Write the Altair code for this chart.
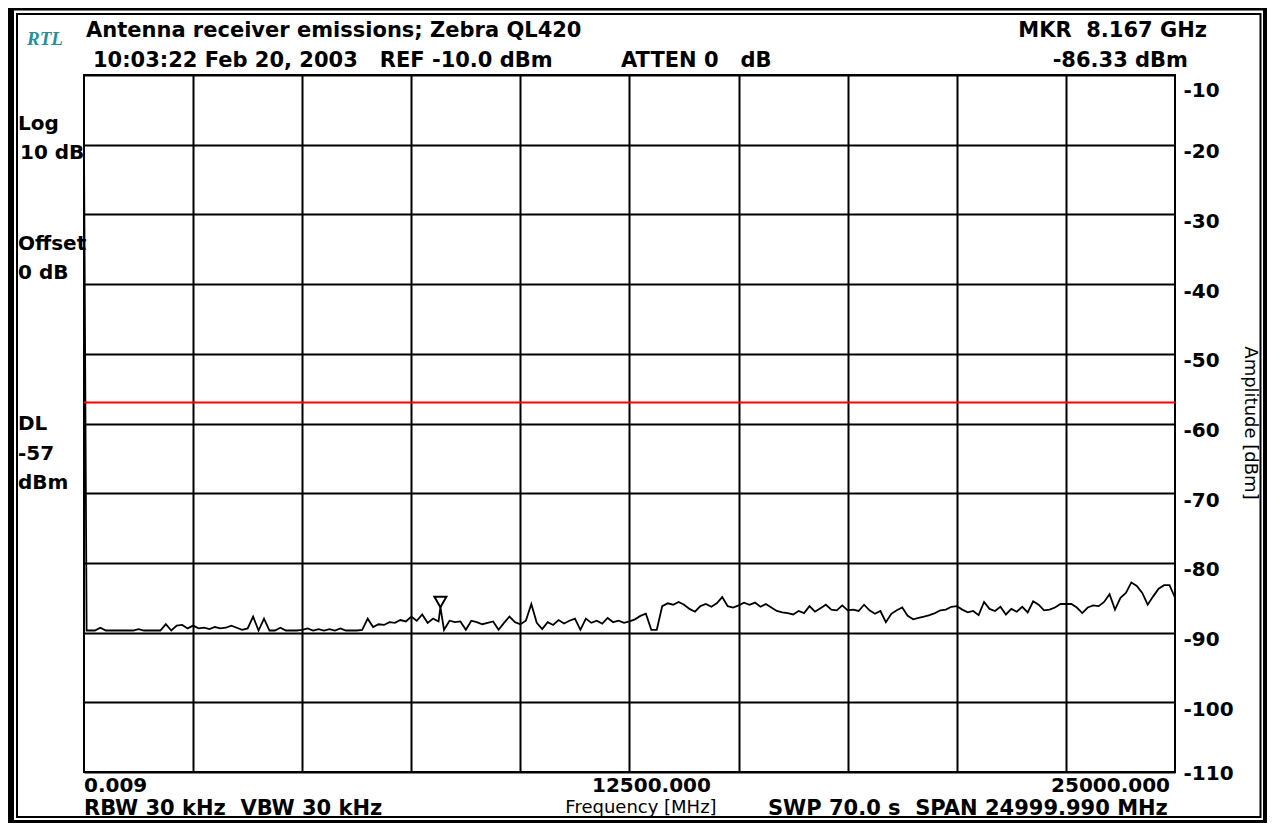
import altair as alt
import pandas as pd

# ---------------- data ----------------
FREQ_MHZ = [
    0.009, 60,
    125, 250, 375, 500, 625, 750, 875, 1000,
    1125, 1250, 1375, 1500, 1625, 1750, 1875, 2000,
    2125, 2250, 2375, 2500, 2625, 2750, 2875, 3000,
    3125, 3250, 3375, 3500, 3625, 3750, 3875, 4000,
    4125, 4250, 4375, 4500, 4625, 4750, 4875, 5000,
    5125, 5250, 5375, 5500, 5625, 5750, 5875, 6000,
    6125, 6250, 6375, 6500, 6625, 6750, 6875, 7000,
    7125, 7250, 7375, 7500, 7625, 7750, 7875, 8000,
    8125, 8167, 8250, 8375, 8500, 8625, 8750, 8875, 9000,
    9125, 9250, 9375, 9500, 9625, 9750, 9875, 10000,
    10125, 10250, 10375, 10500, 10625, 10750, 10875, 11000,
    11125, 11250, 11375, 11500, 11625, 11750, 11875, 12000,
    12125, 12250, 12375, 12500, 12625, 12750, 12875, 13000,
    13125, 13250, 13375, 13500, 13625, 13750, 13875, 14000,
    14125, 14250, 14375, 14500, 14625, 14750, 14875, 15000,
    15125, 15250, 15375, 15500, 15625, 15750, 15875, 16000,
    16125, 16250, 16375, 16500, 16625, 16750, 16875, 17000,
    17125, 17250, 17375, 17500, 17625, 17750, 17875, 18000,
    18125, 18250, 18375, 18500, 18625, 18750, 18875, 19000,
    19125, 19250, 19375, 19500, 19625, 19750, 19875, 20000,
    20125, 20250, 20375, 20500, 20625, 20750, 20875, 21000,
    21125, 21250, 21375, 21500, 21625, 21750, 21875, 22000,
    22125, 22250, 22375, 22500, 22625, 22750, 22875, 23000,
    23125, 23250, 23375, 23500, 23625, 23750, 23875, 24000,
    24125, 24250, 24375, 24500, 24625, 24750, 24875, 25000,
]

AMP_DBM = [
    -20.3, -89.7,
    -89.7, -89.7, -89.3, -89.7, -89.7, -89.7, -89.7, -89.7,
    -89.7, -89.5, -89.7, -89.7, -89.7, -89.7, -88.8, -89.7,
    -89.0, -88.9, -89.4, -89.0, -89.4, -89.3, -89.5, -89.2,
    -89.4, -89.3, -89.0, -89.3, -89.6, -89.4, -87.7, -89.7,
    -88.0, -89.7, -89.7, -89.3, -89.7, -89.7, -89.7, -89.6,
    -89.4, -89.7, -89.5, -89.7, -89.5, -89.7, -89.4, -89.7,
    -89.7, -89.7, -89.6, -88.0, -89.2, -88.8, -88.9, -88.5,
    -88.6, -88.2, -88.4, -87.7, -88.3, -87.4, -88.6, -88.0,
    -88.4, -86.33, -89.6, -88.3, -88.5, -88.4, -89.6, -88.3, -88.5,
    -88.8, -88.6, -88.4, -89.6, -88.6, -87.7, -88.5, -88.8,
    -88.3, -85.9, -88.6, -89.5, -88.5, -88.9, -88.2, -88.7,
    -88.3, -88.0, -89.6, -88.0, -88.6, -88.3, -88.7, -87.9,
    -88.5, -88.3, -88.6, -88.4, -88.1, -87.6, -87.3, -89.6,
    -89.6, -86.2, -85.8, -86.0, -85.6, -86.0, -86.6, -87.0,
    -86.2, -85.9, -86.3, -85.8, -84.9, -86.2, -86.4, -86.1,
    -85.7, -86.0, -85.7, -86.3, -85.9, -86.4, -86.9, -87.1,
    -87.2, -87.4, -86.9, -87.2, -86.2, -87.0, -86.5, -86.0,
    -86.7, -86.8, -86.1, -86.8, -86.7, -86.9, -86.0, -86.8,
    -87.3, -86.9, -88.5, -87.3, -86.8, -86.4, -87.6, -88.1,
    -87.9, -87.7, -87.5, -87.2, -86.8, -86.7, -86.3, -86.2,
    -86.7, -87.1, -86.9, -87.5, -85.6, -86.6, -86.9, -86.3,
    -87.4, -86.6, -87.0, -86.3, -87.1, -85.5, -86.0, -86.8,
    -86.7, -86.4, -85.9, -85.9, -85.9, -86.4, -87.2, -86.4,
    -86.1, -86.2, -85.6, -84.5, -86.7, -85.0, -84.3, -82.8,
    -83.3, -84.3, -86.0, -84.8, -83.7, -83.2, -83.2, -85.0,
]

X_START, X_STOP = 0.009, 25000
X_GRID = [2500, 5000, 7500, 10000, 12500, 15000, 17500, 20000, 22500]
X_TICK_VALUES = [0.009, 12500, 25000]
X_TICK_LABELS = ["0.009", "12500.000", "25000.000"]
Y_TICKS = [-10, -20, -30, -40, -50, -60, -70, -80, -90, -100, -110]
DL_LEVEL = -57
MARKER_FREQ = [8167]
MARKER_AMP = [-86.33]

assert len(FREQ_MHZ) == len(AMP_DBM)

trace = pd.DataFrame({"freq": FREQ_MHZ, "amp": AMP_DBM})
marker = pd.DataFrame({"freq": MARKER_FREQ, "amp": MARKER_AMP})
one = pd.DataFrame({"k": [0]})

FONT = "DejaVu Sans"

xs = alt.Scale(domain=[X_START, X_STOP], nice=False, zero=False)
ys = alt.Scale(domain=[Y_TICKS[-1], Y_TICKS[0]], nice=False, zero=False)

X_ENC = alt.X(
    "freq:Q", scale=xs,
    axis=alt.Axis(values=X_GRID, grid=True, labels=False, ticks=False, domain=False,
                  title=None, gridColor="black", gridWidth=2, gridOpacity=1),
)
Y_ENC = alt.Y(
    "amp:Q", scale=ys,
    axis=alt.Axis(
        orient="right", values=Y_TICKS, grid=True, gridColor="black", gridWidth=2,
        gridOpacity=1, domain=False, ticks=False, title=None,
        labelExpr="toString(datum.value)",
        labelFont=FONT, labelFontWeight="bold", labelFontSize=20, labelColor="black",
        labelPadding=8, labelBaseline="middle",
        labelOffset={"condition": [{"test": "datum.value == -10", "value": 15},
                                   {"test": "datum.value == -110", "value": 1}],
                     "value": 7},
    ),
)

line = alt.Chart(trace).mark_line(color="black", strokeWidth=1.8).encode(x=X_ENC, y=Y_ENC)

dl = alt.Chart(one).mark_rule(color="#ff0000", strokeWidth=2).encode(y=alt.datum(DL_LEVEL))

mk = alt.Chart(marker).mark_point(
    shape="triangle-down", size=144, filled=False, color="black", strokeWidth=2,
    opacity=1, yOffset=-5,
).encode(x=X_ENC, y=Y_ENC)


def txt(text, x, y, size=21, weight="bold", align="left", font=FONT,
        color="black", angle=0, baseline="alphabetic", style="normal"):
    return alt.Chart(one).mark_text(
        text=text, align=align, baseline=baseline, font=font, fontSize=size,
        fontWeight=weight, color=color, angle=angle, fontStyle=style,
    ).encode(x=alt.value(x), y=alt.value(y))


def xlabel(value, label, align, dx):
    return alt.Chart(one).mark_text(
        text=label, align=align, baseline="alphabetic", font=FONT, fontSize=20,
        fontWeight="bold", color="black", dx=dx,
    ).encode(x=alt.datum(value, scale=xs), y=alt.value(717))


NB = "\u00a0"
texts = [
    txt("RTL", -57, -30, size=19, font="Liberation Serif", style="italic",
        color="#23909c"),
    txt("Antenna receiver emissions; Zebra QL420", 2, -38),
    txt(f"10:03:22 Feb 20, 2003{NB}{NB} REF -10.0 dBm", 9, -8),
    txt(f"ATTEN 0{NB}{NB} dB", 537, -8),
    txt(f"MKR{NB} 8.167 GHz", 1123, -38, align="right"),
    txt("-86.33 dBm", 1104, -8, align="right"),
    txt("Log", -66, 55, size=20),
    txt("10 dB", -64, 84, size=20),
    txt("Offset", -66, 175, size=20),
    txt("0 dB", -66, 204, size=20),
    txt("DL", -66, 355, size=20),
    txt("-57", -66, 385, size=20),
    txt("dBm", -66, 414, size=20),
    txt(f"RBW 30 kHz{NB} VBW 30 kHz", 0, 740),
    txt("Frequency [MHz]", 557, 738, size=18, weight="normal", align="center"),
    txt(f"SWP 70.0 s{NB} SPAN 24999.990 MHz", 684, 740),
    txt("Amplitude [dBm]", 1166, 348, size=18, weight="normal", align="center",
        angle=90, baseline="middle"),
    xlabel(X_TICK_VALUES[0], X_TICK_LABELS[0], "left", 0),
    xlabel(X_TICK_VALUES[1], X_TICK_LABELS[1], "center", 22),
    xlabel(X_TICK_VALUES[2], X_TICK_LABELS[2], "right", -5),
]

outer = alt.Chart(one).mark_rect(fill=None, stroke="black", strokeWidth=8).encode(
    x=alt.value(-74), x2=alt.value(1183), y=alt.value(-68.5), y2=alt.value(749))
inner = alt.Chart(one).mark_rect(fill=None, stroke="black", strokeWidth=2).encode(
    x=alt.value(-67), x2=alt.value(1176.5), y=alt.value(-61), y2=alt.value(742))

chart = alt.layer(line, dl, mk, outer, inner, *texts).properties(
    width=1091, height=697,
    padding={"left": 76, "top": 67, "right": 92, "bottom": 51},
    autosize=alt.AutoSizeParams(type="none"),
    background="white",
).configure_view(stroke="black", strokeWidth=2)

chart.save("out.html", embed_options={"renderer": "svg", "actions": False})
